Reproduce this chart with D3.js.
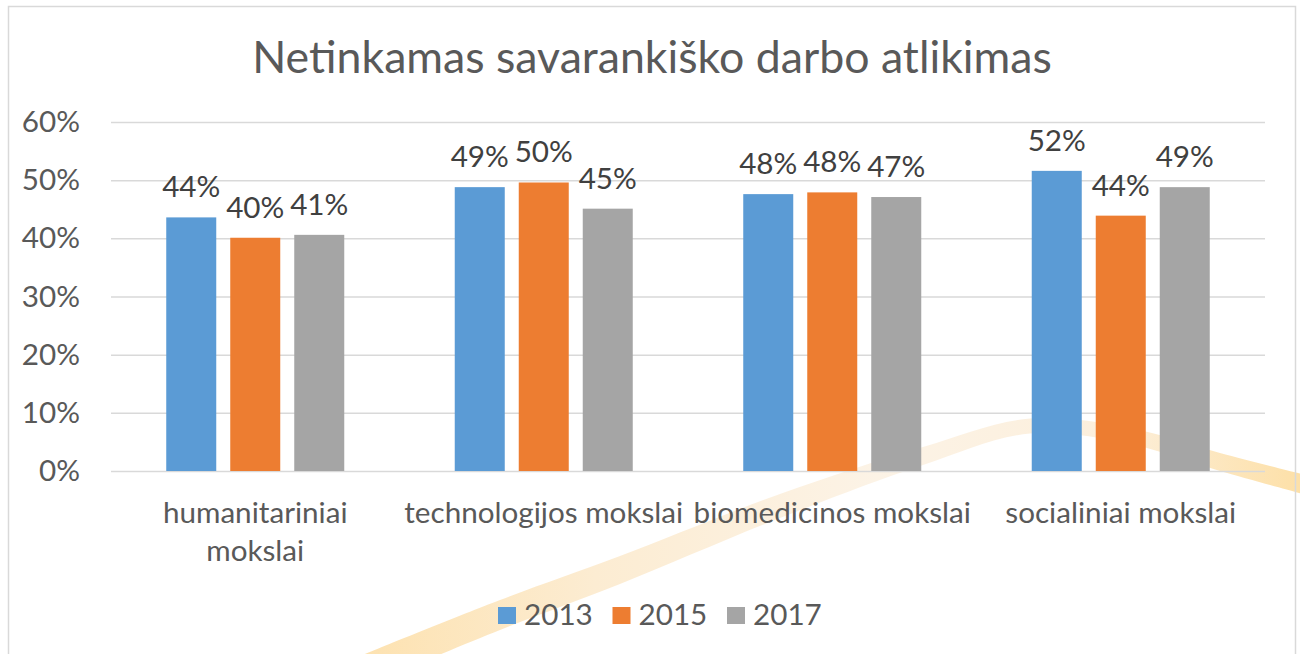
<!DOCTYPE html>
<html>
<head>
    <meta charset="utf-8">
    <title>Netinkamas savarankiško darbo atlikimas</title>
    <script src="https://d3js.org/d3.v7.min.js"></script>
    <style>
        body { margin: 0; background: #fff; }
        text { font-family: Lato, "Open Sans", sans-serif; }
    </style>
</head>
<body>
<script>
    var width = 1300, height = 654;

    // data
    var categories = ["humanitariniai mokslai", "technologijos mokslai", "biomedicinos mokslai", "socialiniai mokslai"];
    var years = ["2013", "2015", "2017"];
    var values2013 = [0.436, 0.488, 0.476, 0.516];
    var values2015 = [0.401, 0.496, 0.479, 0.439];
    var values2017 = [0.406, 0.451, 0.471, 0.488];
    var yTicks = [0, 0.1, 0.2, 0.3, 0.4, 0.5, 0.6];
    var colors = ["#5b9bd5", "#ed7d31", "#a5a5a5"];

    var series = [values2013, values2015, values2017];

    var svg = d3.select("body").append("svg")
        .attr("width", width)
        .attr("height", height);

    var defs = svg.append("defs");
    var swooshGrad = defs.append("linearGradient").attr("id", "swoosh")
        .attr("gradientUnits", "userSpaceOnUse")
        .attr("x1", 360).attr("y1", 0).attr("x2", 1300).attr("y2", 0);
    swooshGrad.append("stop").attr("offset", "0%").attr("stop-color", "#fde2b0");
    swooshGrad.append("stop").attr("offset", "25%").attr("stop-color", "#fcecd2");
    swooshGrad.append("stop").attr("offset", "55%").attr("stop-color", "#fcf3e6");
    swooshGrad.append("stop").attr("offset", "80%").attr("stop-color", "#fcefdc");
    swooshGrad.append("stop").attr("offset", "100%").attr("stop-color", "#fde0a8");

    // decorative background band
    var swooshPts = [[360, 672, 32], [500, 615, 30], [620, 570, 28], [780, 506, 24],
                     [923, 456, 18], [1030, 426, 15], [1130, 436, 16], [1220, 462, 18], [1310, 486, 20]];
    var swooshArea = d3.area()
        .x(function(d) { return d[0]; })
        .y0(function(d) { return d[1] - d[2] / 2; })
        .y1(function(d) { return d[1] + d[2] / 2; })
        .curve(d3.curveCatmullRom);
    svg.append("path")
        .attr("d", swooshArea(swooshPts))
        .attr("fill", "url(#swoosh)");

    // chart border
    svg.append("rect")
        .attr("x", 8.5).attr("y", 6.5)
        .attr("width", 1287).attr("height", 700)
        .attr("fill", "none")
        .attr("stroke", "#d9d9d9")
        .attr("stroke-width", 1.5);

    var plotLeft = 111, plotRight = 1265, plotTop = 122, plotBottom = 471;

    var x0 = d3.scaleBand().domain(categories).range([plotLeft, plotRight])
        .paddingInner(0.383).paddingOuter(0.1915);
    var x1 = d3.scaleBand().domain(years).range([0, x0.bandwidth()])
        .paddingInner(14 / 64);
    var y = d3.scaleLinear().domain([0, 0.6]).range([plotBottom, plotTop]);
    var pct = d3.format(".0%");

    // font sizing: fit the widths measured in the reference
    function fitSize(str, base, target) {
        var t = svg.append("text").attr("font-size", base).text(str);
        var w = t.node().getComputedTextLength();
        t.remove();
        return base * target / w;
    }
    var bodySize = fitSize("socialiniai mokslai", 28, 231);
    var titleSize = fitSize("Netinkamas savarankiško darbo atlikimas", 44, 800);

    svg.append("text")
        .attr("x", 652).attr("y", 73)
        .attr("text-anchor", "middle")
        .attr("font-size", titleSize)
        .attr("fill", "#595959")
        .text("Netinkamas savarankiško darbo atlikimas");

    // gridlines + y axis labels
    var yAxis = d3.axisLeft(y).tickValues(yTicks).tickFormat(pct)
        .tickSize(-(plotRight - plotLeft)).tickPadding(31);
    var yg = svg.append("g").attr("transform", "translate(" + plotLeft + ",0)").call(yAxis);
    yg.select(".domain").remove();
    yg.selectAll(".tick line").attr("stroke", "#d9d9d9").attr("stroke-width", 1.5);
    yg.selectAll(".tick text")
        .attr("font-size", bodySize)
        .attr("font-family", "Lato, 'Open Sans', sans-serif")
        .attr("fill", "#595959");

    // bars
    var groups = svg.selectAll("g.cat").data(categories).enter().append("g")
        .attr("class", "cat")
        .attr("transform", function(d) { return "translate(" + x0(d) + ",0)"; });

    groups.selectAll("rect").data(function(d, i) {
        return years.map(function(yr, j) { return { year: yr, value: series[j][i], k: j }; });
    }).enter().append("rect")
        .attr("x", function(d) { return x1(d.year); })
        .attr("y", function(d) { return y(d.value); })
        .attr("width", x1.bandwidth())
        .attr("height", function(d) { return plotBottom - y(d.value); })
        .attr("fill", function(d) { return colors[d.k]; });

    groups.selectAll("text.lbl").data(function(d, i) {
        return years.map(function(yr, j) { return { year: yr, value: series[j][i] }; });
    }).enter().append("text")
        .attr("class", "lbl")
        .attr("x", function(d) { return x1(d.year) + x1.bandwidth() / 2; })
        .attr("y", function(d) { return y(d.value) - 20; })
        .attr("text-anchor", "middle")
        .attr("font-size", bodySize)
        .attr("fill", "#404040")
        .text(function(d) { return pct(d.value); });

    // category labels, wrapped when wider than the band step
    var maxW = x0.step();
    categories.forEach(function(c) {
        var t = svg.append("text")
            .attr("text-anchor", "middle")
            .attr("font-size", bodySize)
            .attr("fill", "#595959")
            .attr("x", x0(c) + x0.bandwidth() / 2)
            .attr("y", 523);
        t.text(c);
        if (t.node().getComputedTextLength() > maxW) {
            var words = c.split(" ");
            t.text(null);
            words.forEach(function(w, i) {
                t.append("tspan")
                    .attr("x", x0(c) + x0.bandwidth() / 2)
                    .attr("dy", i === 0 ? 0 : 38)
                    .text(w);
            });
        }
    });

    // legend
    var legend = svg.selectAll("g.leg").data(years).enter().append("g")
        .attr("class", "leg")
        .attr("transform", function(d, i) { return "translate(" + (498 + i * 114.5) + ",607)"; });
    legend.append("rect")
        .attr("width", 18).attr("height", 17)
        .attr("fill", function(d, i) { return colors[i]; });
    legend.append("text")
        .attr("x", 26).attr("y", 18)
        .attr("font-size", bodySize)
        .attr("fill", "#595959")
        .text(function(d) { return d; });
</script>
</body>
</html>
